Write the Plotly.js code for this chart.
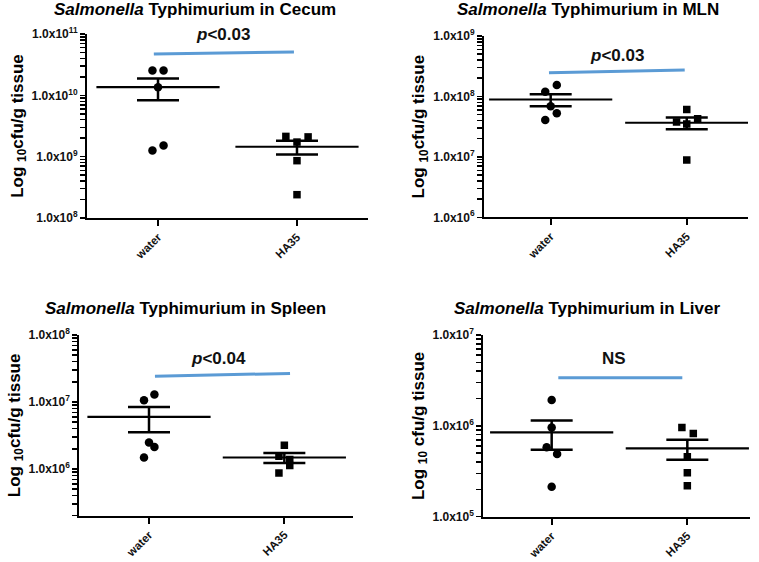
<!DOCTYPE html>
<html><head><meta charset="utf-8">
<script src="https://cdn.plot.ly/plotly-3.0.1.min.js"></script>
<style>html,body{margin:0;padding:0;background:#fff}</style>
</head><body><div id="chart" style="width:759px;height:562px"></div>
<script>
// ---------------- DATA ----------------
const groups = ['water', 'HA35'];
const tissues = ['Cecum', 'MLN', 'Spleen', 'Liver'];

// individual animals (cfu/g tissue)
const cecumWater  = [2.55e10, 2.55e10, 1.36e10, 1.52e9, 1.26e9];
const cecumHA35   = [2.14e9, 2.10e9, 1.73e9, 8.6e8, 2.4e8];
const mlnWater    = [1.20e8, 1.55e8, 6.9e7, 5.25e7, 4.07e7];
const mlnHA35     = [6.1e7, 3.77e7, 4.28e7, 3.5e7, 8.85e6];
const spleenWater = [1.06e7, 1.29e7, 2.48e6, 2.13e6, 1.48e6];
const spleenHA35  = [2.26e6, 1.54e6, 1.38e6, 1.12e6, 8.7e5];
const liverWater  = [1.92e6, 9.6e5, 5.8e5, 4.89e5, 2.14e5];
const liverHA35   = [9.6e5, 8.26e5, 4.57e5, 3.05e5, 2.19e5];

// mean and SEM [water, HA35]
const cecumMean  = [1.36e10, 1.45e9];  const cecumSEM  = [5.3e9, 3.7e8];
const mlnMean    = [8.9e7, 3.67e7];    const mlnSEM    = [2.0e7, 8.0e6];
const spleenMean = [5.98e6, 1.48e6];   const spleenSEM = [2.45e6, 2.5e5];
const liverMean  = [8.47e5, 5.64e5];   const liverSEM  = [3.0e5, 1.4e5];

// significance labels and bar levels [start, end]
const pLabels = ['<i>p</i>&lt;0.03', '<i>p</i>&lt;0.03', '<i>p</i>&lt;0.04', 'NS'];
const barLevels = [[4.72e10, 5.09e10], [2.47e8, 2.74e8], [2.43e7, 2.67e7], [3.39e6, 3.39e6]];

// y axis labelled tick values
const cecumTicks  = [1e8, 1e9, 1e10, 1e11];
const mlnTicks    = [1e6, 1e7, 1e8, 1e9];
const spleenTicks = [1e6, 1e7, 1e8];
const liverTicks  = [1e5, 1e6, 1e7];
const yTitles = ['Log <sub>10</sub>cfu/g tissue', 'Log <sub>10</sub>cfu/g tissue',
                 'Log <sub>10</sub>cfu/g tissue', 'Log <sub>10</sub> cfu/g tissue'];

// ---------------- LAYOUT CONFIG ----------------
const W = 759, H = 562;
const panels = [
  {water: cecumWater, ha: cecumHA35, mean: cecumMean, sem: cecumSEM, ticks: cecumTicks,
   px: [87, 368], py: [34, 218], xr: [-0.511, 1.511], yr: [8, 11],
   jw: [-0.04, 0.04, 0, 0.04, -0.04], jh: [-0.08, 0.08, 0, 0, 0],
   bx: [-0.03, 0.978], lab: [0.468, 10.99], title: [195, 9]},
  {water: mlnWater, ha: mlnHA35, mean: mlnMean, sem: mlnSEM, ticks: mlnTicks,
   px: [484, 748], py: [36, 217.3], xr: [-0.49, 1.45], yr: [6, 9],
   jw: [-0.04, 0.045, 0, 0.045, -0.04], jh: [0, -0.075, 0.08, 0, 0],
   bx: [-0.0125, 0.985], lab: [0.485, 8.685], title: [587.5, 9]},
  {water: spleenWater, ha: spleenHA35, mean: spleenMean, sem: spleenSEM, ticks: spleenTicks,
   px: [79.3, 352.7], py: [335, 515.7], xr: [-0.515, 1.505], yr: [Math.log10(2e5), 8],
   jw: [-0.037, 0.04, 0, 0.04, -0.037], jh: [0, -0.04, 0.04, 0.04, -0.04],
   bx: [0.044, 1.042], lab: [0.51, 7.651], title: [185, 308.3]},
  {water: liverWater, ha: liverHA35, mean: liverMean, sem: liverSEM, ticks: liverTicks,
   px: [483.3, 750], py: [335, 516.7], xr: [-0.504, 1.462], yr: [5, 7],
   jw: [0, 0, -0.037, 0.04, 0], jh: [-0.04, 0.044, 0, 0, 0],
   bx: [0.049, 0.963], lab: [0.462, 6.743], title: [586.7, 308]}
];

// all log ticks (1..9 x 10^k) within range; only decades get a label
function logTicks(yr, labelled) {
  const vals = [], text = [];
  for (let k = Math.floor(yr[0]); k <= Math.ceil(yr[1]); k++) {
    for (let m = 1; m <= 9; m++) {
      const v = m * Math.pow(10, k);
      const lv = Math.log10(v);
      if (lv < yr[0] - 1e-9 || lv > yr[1] + 1e-9) continue;
      vals.push(v);
      text.push(m === 1 && labelled.indexOf(v) >= 0 ? '1.0x10<sup>' + k + '</sup>' : ' ');
    }
  }
  return {vals, text};
}

const FONT = 'Liberation Sans, Arial, sans-serif';
const traces = [];
const layout = {
  width: W, height: H, margin: {l: 0, r: 0, t: 0, b: 0},
  paper_bgcolor: '#fff', plot_bgcolor: '#fff', showlegend: false,
  font: {family: FONT, color: '#111'},
  annotations: []
};

panels.forEach((p, i) => {
  const n = i + 1;
  const xa = 'x' + (n === 1 ? '' : n), ya = 'y' + (n === 1 ? '' : n);
  // individual points
  traces.push({x: p.water.map((v, k) => 0 + p.jw[k]), y: p.water, xaxis: xa, yaxis: ya,
    type: 'scatter', mode: 'markers', marker: {symbol: 'circle', size: 8.5, color: '#000'}, hoverinfo: 'y'});
  traces.push({x: p.ha.map((v, k) => 1 + p.jh[k]), y: p.ha, xaxis: xa, yaxis: ya,
    type: 'scatter', mode: 'markers', marker: {symbol: 'square', size: 7.5, color: '#000'}, hoverinfo: 'y'});
  // mean +- SEM
  traces.push({x: [0, 1], y: p.mean, xaxis: xa, yaxis: ya, type: 'scatter', mode: 'markers',
    marker: {symbol: 'line-ew', size: 88, color: '#000', line: {width: 2.2, color: '#000'}},
    error_y: {type: 'data', array: p.sem, symmetric: true, color: '#000', thickness: 2.5, width: 21},
    hoverinfo: 'y'});
  // significance bar
  traces.push({x: p.bx, y: barLevels[i], xaxis: xa, yaxis: ya, type: 'scatter', mode: 'lines',
    line: {color: '#5b9bd5', width: 3}, hoverinfo: 'skip'});

  const t = logTicks(p.yr, p.ticks);
  layout['xaxis' + (n === 1 ? '' : n)] = {
    domain: [p.px[0] / W, p.px[1] / W], range: p.xr, anchor: ya,
    showline: true, linecolor: '#000', linewidth: 2, showgrid: false, zeroline: false,
    ticks: 'outside', tickcolor: '#000', ticklen: 6, tickwidth: 2,
    tickmode: 'array', tickvals: [0, 1], ticktext: groups, tickangle: -45,
    tickfont: {family: FONT, size: 11.5, weight: 'bold', color: '#111'}
  };
  layout['yaxis' + (n === 1 ? '' : n)] = {
    domain: [1 - p.py[1] / H, 1 - p.py[0] / H], range: p.yr, type: 'log', anchor: xa,
    showline: true, linecolor: '#000', linewidth: 2, showgrid: false, zeroline: false,
    ticks: 'outside', tickcolor: '#000', ticklen: 5, tickwidth: 1.5,
    tickmode: 'array', tickvals: t.vals, ticktext: t.text,
    tickfont: {family: FONT, size: 12, weight: 'bold', color: '#111'},
    title: {text: yTitles[i], font: {family: FONT, size: 17, weight: 'bold', color: '#000'}, standoff: 4}
  };
  // panel title
  layout.annotations.push({xref: 'paper', yref: 'paper', x: p.title[0] / W, y: 1 - p.title[1] / H,
    xanchor: 'center', yanchor: 'middle', showarrow: false,
    text: '<i>Salmonella</i> Typhimurium in ' + tissues[i],
    font: {family: FONT, size: 17, weight: 'bold', color: '#000'}});
  // p label
  layout.annotations.push({xref: xa, yref: ya, x: p.lab[0], y: p.lab[1],
    xanchor: 'center', yanchor: 'middle', showarrow: false, text: pLabels[i],
    font: {family: FONT, size: 17, weight: 'bold', color: '#111'}});
});

Plotly.newPlot('chart', traces, layout, {staticPlot: true, displayModeBar: false});
</script>
</body></html>
